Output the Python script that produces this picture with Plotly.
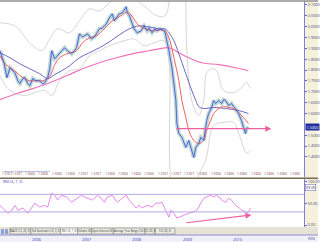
import plotly.graph_objects as go

# ---------------- data (decimal years, prices) ----------------
close_t = [2005.30,2005.38,2005.44,2005.50,2005.56,2005.60,2005.66,2005.70,2005.76,2005.80,2005.86,2005.90,2005.96,
           2006.02,2006.10,2006.16,2006.20,2006.26,2006.30,2006.34,2006.40,2006.46,2006.54,2006.60,2006.66,2006.74,2006.80,2006.84,2006.90,2006.96,
           2007.00,2007.06,2007.14,2007.20,2007.24,2007.30,2007.36,2007.44,2007.50,2007.56,2007.60,2007.64,2007.70,2007.76,2007.80,2007.84,2007.86,2007.90,2007.94,
           2008.00,2008.06,2008.14,2008.20,2008.26,2008.30,2008.36,2008.42,2008.46,2008.52,2008.58,2008.62,2008.66,2008.70,2008.76,2008.80,2008.84,2008.86,2008.90,2008.96,
           2009.00,2009.04,2009.10,2009.16,2009.20,2009.24,2009.30,2009.34,2009.40,2009.44,2009.46,2009.50,2009.56,2009.60,2009.64,2009.70,2009.76,2009.80,2009.84,2009.90,2009.96,
           2010.00,2010.04,2010.10,2010.16,2010.20,2010.24,2010.26,2010.30]
close_v = [1.889,1.834,1.765,1.811,1.797,1.788,1.751,1.738,1.761,1.765,1.738,1.728,1.761,
           1.751,1.751,1.738,1.742,1.765,1.806,1.889,1.852,1.866,1.889,1.903,1.889,1.875,1.889,1.903,1.967,1.953,
           1.958,1.967,1.944,1.953,1.967,1.990,1.994,2.013,2.040,2.059,2.027,2.040,2.059,2.063,2.077,2.091,2.063,2.054,2.027,
           1.990,1.972,1.981,2.004,1.981,1.994,1.972,1.990,1.981,1.990,1.985,1.976,1.935,1.889,1.811,1.728,1.660,1.554,1.508,1.490,
           1.467,1.444,1.476,1.430,1.398,1.444,1.462,1.490,1.476,1.536,1.568,1.600,1.628,1.660,1.646,1.660,1.646,1.664,1.660,1.637,1.646,
           1.632,1.623,1.600,1.568,1.536,1.508,1.531,1.536]

ma_red_t = [2005.30,2005.40,2005.54,2005.64,2005.76,2005.90,2006.04,2006.16,2006.30,2006.40,2006.50,2006.64,2006.84,2006.96,
            2007.10,2007.24,2007.36,2007.46,2007.56,2007.66,2007.76,2007.86,2007.94,2008.02,2008.10,2008.24,2008.36,2008.50,2008.62,
            2008.70,2008.80,2008.90,2008.96,2009.04,2009.10,2009.16,2009.24,2009.30,2009.40,2009.46,2009.54,2009.60,2009.70,2009.80,
            2009.90,2010.00,2010.10,2010.20,2010.30]
ma_red_v = [1.866,1.829,1.806,1.788,1.765,1.751,1.751,1.751,1.770,1.825,1.857,1.875,1.889,1.926,
            1.949,1.958,1.981,2.004,2.027,2.040,2.054,2.068,2.054,2.027,2.004,1.990,1.981,1.985,1.981,
            1.949,1.857,1.751,1.660,1.582,1.522,1.490,1.467,1.462,1.476,1.522,1.568,1.600,1.623,1.632,
            1.628,1.623,1.605,1.582,1.554]

ma_purple_t = [2005.30,2005.50,2005.70,2005.90,2006.10,2006.26,2006.40,2006.54,2006.70,2006.90,2007.10,2007.30,2007.50,
               2007.70,2007.90,2008.10,2008.30,2008.50,2008.62,2008.70,2008.80,2008.90,2009.04,2009.16,2009.24,2009.30,
               2009.40,2009.60,2009.84,2010.10,2010.30]
ma_purple_v = [1.880,1.857,1.829,1.806,1.783,1.761,1.779,1.797,1.820,1.857,1.880,1.903,1.930,
               1.962,1.990,2.004,1.999,1.990,1.990,1.972,1.935,1.875,1.783,1.706,1.660,1.632,
               1.623,1.628,1.623,1.614,1.600]

ma_pink_t = [2005.30,2005.64,2005.96,2006.30,2006.64,2006.96,2007.30,2007.64,2007.96,2008.30,2008.50,2008.70,2008.90,
             2009.10,2009.36,2009.70,2010.04,2010.30]
ma_pink_v = [1.664,1.692,1.715,1.742,1.774,1.806,1.834,1.857,1.875,1.889,1.898,1.903,1.880,
             1.857,1.834,1.825,1.811,1.797]

band_up_t = [2005.30,2005.60,2005.90,2006.14,2006.30,2006.46,2006.70,2006.90,2007.10,2007.30,2007.50,2007.70,2007.94,
             2008.20,2008.46,2008.62,2008.74,2008.90,2009.02,2009.06,2009.16,2009.30,2009.40,2009.46,2009.56,2009.66,
             2009.80,2010.00,2010.14,2010.26,2010.34]
band_up_v = [2.017,2.004,1.926,1.889,1.944,1.990,1.972,2.027,2.082,2.072,2.109,2.132,2.141,
             2.095,2.050,2.050,2.164,2.302,2.164,1.889,1.660,1.591,1.660,1.788,1.806,1.797,
             1.706,1.696,1.715,1.742,1.715]
band_lo_t = [2005.30,2005.50,2005.80,2006.00,2006.20,2006.34,2006.50,2006.70,2006.90,2007.10,2007.30,2007.50,2007.80,
             2008.00,2008.20,2008.40,2008.60,2008.70,2008.80,2009.10,2009.30,2009.44,2009.60,2009.80,2010.00,2010.12,
             2010.26,2010.34]
band_lo_v = [1.774,1.706,1.683,1.696,1.706,1.683,1.751,1.797,1.806,1.866,1.889,1.912,1.935,
             1.944,1.912,1.926,1.935,1.843,1.201,1.109,1.316,1.384,1.545,1.559,1.559,1.499,
             1.417,1.430]

support_level = 1.530
support_t = [2008.82, 2010.76]

rsi_t = [2005.30,2005.36,2005.46,2005.54,2005.60,2005.66,2005.76,2005.86,2005.94,2006.00,2006.10,2006.20,2006.26,2006.34,
         2006.40,2006.46,2006.54,2006.64,2006.74,2006.84,2006.94,2007.00,2007.06,2007.16,2007.26,2007.34,2007.40,2007.46,
         2007.56,2007.66,2007.76,2007.84,2007.90,2007.96,2008.04,2008.10,2008.16,2008.26,2008.36,2008.44,2008.50,2008.56,
         2008.64,2008.70,2008.74,2008.80,2008.86,2008.90,2009.00,2009.10,2009.20,2009.26,2009.34,2009.40,2009.46,2009.54,
         2009.60,2009.66,2009.74,2009.76,2009.84,2009.90,2009.96,2010.04,2010.10,2010.16,2010.24,2010.26,2010.30,2010.34]
rsi_v = [45,39,27,34,45,34,39,27,39,50,41,45,41,73,
         68,57,68,64,52,61,68,64,61,57,68,61,52,64,
         68,52,61,68,57,50,39,45,39,45,41,50,50,52,
         30,18,34,27,16,18,23,27,30,34,50,61,64,68,
         64,68,61,57,52,61,57,45,41,34,30,27,30,39]
rsi_levels = [70, 30]
rsi_div_t = [2009.02, 2010.36]
rsi_div_v = [5, 23]

price_ticks = [2.10,2.05,2.00,1.95,1.90,1.85,1.80,1.75,1.70,1.65,1.60,1.50,1.45,1.40]
rsi_ticks = [100, 50, 0]
years = ["2006", "2007", "2008", "2009", "2010"]
year_pos = [2006.05, 2007.05, 2008.05, 2009.08, 2010.08]
xlabels = ["1.5767","1.5767","1.5666","1.5366","1.5566","1.5366","1.5767","1.5767","1.5366","1.5566","1.5366","1.5566",
           "1.5767","1.5767","1.5767","1.5366","1.5566","1.5366","1.5366","1.5366","1.5366","1.5366","1.5366"]
tabs = ["MACD (12, 26, 9)", "Full Stochastic (14, 3, 3)", "RSI (14, 7, 3)", "Volume (0)", "Open Interest (0)",
        "Average True Range (14)", "CCI (20, 0)", "CCI (20, 0)"]

# ---------------- figure ----------------
W, H = 320, 242
XR = [2005.30, 2011.42]
main_dom = [1 - 177 / H, 1]
rsi_dom = [15 / H, 63 / H]
xd = [0, 306 / W]

fig = go.Figure()
# price bars approximated as a broad light band
fig.add_trace(go.Scatter(x=close_t, y=close_v, mode="lines", line=dict(color="rgba(168,200,190,0.7)", width=4),
                         xaxis="x", yaxis="y", hoverinfo="skip"))
fig.add_trace(go.Scatter(x=band_up_t, y=band_up_v, mode="lines", line=dict(color="#cccccc", width=0.8, shape="spline"),
                         xaxis="x", yaxis="y"))
fig.add_trace(go.Scatter(x=band_lo_t, y=band_lo_v, mode="lines", line=dict(color="#cccccc", width=0.8, shape="spline"),
                         xaxis="x", yaxis="y"))
fig.add_trace(go.Scatter(x=ma_pink_t, y=ma_pink_v, mode="lines", line=dict(color="#f070b8", width=1.2, shape="spline"),
                         xaxis="x", yaxis="y"))
fig.add_trace(go.Scatter(x=ma_purple_t, y=ma_purple_v, mode="lines", line=dict(color="#6a6ac0", width=1, shape="spline"),
                         xaxis="x", yaxis="y"))
fig.add_trace(go.Scatter(x=ma_red_t, y=ma_red_v, mode="lines", line=dict(color="#f06060", width=1, shape="spline"),
                         xaxis="x", yaxis="y"))
fig.add_trace(go.Scatter(x=close_t, y=close_v, mode="lines", line=dict(color="#3a58e8", width=0.9),
                         xaxis="x", yaxis="y"))

# RSI
fig.add_trace(go.Scatter(x=rsi_t, y=rsi_v, mode="lines", line=dict(color="#e888f0", width=1), xaxis="x2", yaxis="y2"))

shapes = []
# right axis strip
shapes.append(dict(type="rect", xref="paper", yref="paper", x0=xd[1], x1=1, y0=0.03, y1=1,
                   fillcolor="#f5f1dc", line=dict(width=0), layer="below"))
for lv in rsi_levels:
    shapes.append(dict(type="line", xref="x2", yref="y2", x0=XR[0], x1=XR[1], y0=lv, y1=lv,
                       line=dict(color="#b4a8e0", width=1)))
# separator between panels
shapes.append(dict(type="line", xref="paper", yref="paper", x0=0, x1=1, y0=1 - 178 / H, y1=1 - 178 / H,
                   line=dict(color="#7a6a50", width=1.5)))
# top border
shapes.append(dict(type="line", xref="paper", yref="paper", x0=0, x1=1, y0=1, y1=1, line=dict(color="#909090", width=1.5)))
# tabs row
shapes.append(dict(type="rect", xref="paper", yref="paper", x0=0, x1=1, y0=0, y1=1 - 227 / H,
                   fillcolor="#e6e3d6", line=dict(width=0), layer="below"))
shapes.append(dict(type="rect", xref="paper", yref="paper", x0=0, x1=1, y0=0, y1=1 - 235 / H,
                   fillcolor="#f0f0f8", line=dict(width=0), layer="below"))
shapes.append(dict(type="line", xref="paper", yref="paper", x0=0, x1=1, y0=1 - 235 / H, y1=1 - 235 / H,
                   line=dict(color="#9090d0", width=1)))
tab_x = [10, 31, 61, 78, 92, 114, 146, 156, 176]
for i in range(len(tab_x) - 1):
    shapes.append(dict(type="rect", xref="paper", yref="paper", x0=tab_x[i] / W, x1=tab_x[i + 1] / W,
                       y0=1 - 234 / H, y1=1 - 228 / H,
                       fillcolor="#ffffff" if i == 2 else "#ecebe4", line=dict(color="#808080", width=0.6)))
shapes.append(dict(type="rect", xref="paper", yref="paper", x0=1 / W, x1=4 / W, y0=1 - 234 / H, y1=1 - 229 / H,
                   fillcolor="#8aa0e0", line=dict(width=0)))
shapes.append(dict(type="rect", xref="paper", yref="paper", x0=5 / W, x1=8 / W, y0=1 - 234 / H, y1=1 - 229 / H,
                   fillcolor="#8aa0e0", line=dict(width=0)))

ann = []
# arrows
ann.append(dict(xref="x", yref="y", axref="x", ayref="y", x=support_t[1], y=support_level,
                ax=support_t[0], ay=support_level, text="", showarrow=True, arrowhead=2, arrowsize=1,
                arrowwidth=1.2, arrowcolor="#f060a0"))
ann.append(dict(xref="x2", yref="y2", axref="x2", ayref="y2", x=rsi_div_t[1], y=rsi_div_v[1],
                ax=rsi_div_t[0], ay=rsi_div_v[0], text="", showarrow=True, arrowhead=2, arrowsize=1,
                arrowwidth=1.2, arrowcolor="#f060a0"))
for i, t in enumerate(tabs):
    ann.append(dict(xref="paper", yref="paper", x=(tab_x[i] + tab_x[i + 1]) / 2 / W, y=1 - 231 / H, text=t,
                    showarrow=False, font=dict(size=2.6, color="#303030"), xanchor="center", yanchor="middle"))
for yp, yt in zip(year_pos, years):
    ann.append(dict(xref="x", yref="paper", x=yp, y=1 - 239 / H, text=yt, showarrow=False,
                    font=dict(size=4, color="#3040c0"), xanchor="center", yanchor="middle"))
for i, t in enumerate(xlabels):
    if i == 0:
        ann.append(dict(xref="paper", yref="paper", x=0, y=1 - 174 / H, text=t, showarrow=False,
                        font=dict(size=3.2, color="#804040"), xanchor="left", yanchor="middle"))
    else:
        ann.append(dict(xref="paper", yref="paper", x=(3.5 + 13.35 * i) / W, y=1 - 174 / H, text=t, showarrow=False,
                        font=dict(size=3.2, color="#804040"), xanchor="center", yanchor="middle"))
ann.append(dict(xref="paper", yref="paper", x=1 / W, y=1 - 170.5 / H, text="Copyright © 2009 eSignal/Interactive Data",
                showarrow=False, font=dict(size=2.4, color="#3040c0"), xanchor="left", yanchor="middle"))
ann.append(dict(xref="paper", yref="paper", x=1 / W, y=1 - 181.5 / H, text="RSI(14, 7, 3)",
                showarrow=False, font=dict(size=3.6, color="#3040c0"), xanchor="left", yanchor="middle"))
# current value boxes
ann.append(dict(xref="paper", yref="y", x=307 / W, y=close_v[-1], text=f"{close_v[-1]:.4f}", showarrow=False,
                font=dict(size=3.8, color="#ffffff"), bgcolor="#2030a0", xanchor="left", yanchor="middle", borderpad=0.5))
ann.append(dict(xref="paper", yref="paper", x=307 / W, y=1 - 187 / H, text=f"{rsi_v[-1]:.2f}", showarrow=False,
                font=dict(size=3.8, color="#303060"), bgcolor="#ffffff", bordercolor="#6060a0", borderwidth=0.5,
                xanchor="left", yanchor="middle", borderpad=0.3))
ann.append(dict(xref="paper", yref="paper", x=313 / W, y=1 - 238.5 / H, text="FDO", showarrow=False,
                font=dict(size=3.5, color="#303060"), xanchor="center", yanchor="middle"))

fig.update_layout(
    width=W, height=H, autosize=False, margin=dict(l=0, r=0, t=0, b=0),
    paper_bgcolor="#ffffff", plot_bgcolor="#ffffff", showlegend=False,
    shapes=shapes, annotations=ann,
    xaxis=dict(domain=xd, range=XR, showticklabels=False, showgrid=False, zeroline=False, anchor="y"),
    yaxis=dict(domain=main_dom, range=[1.3064, 2.1183], side="right", anchor="x",
               tickvals=price_ticks, ticktext=[f"{v:.4f}" for v in price_ticks],
               tickfont=dict(size=3.8, color="#404070"), ticks="outside", ticklen=2, tickcolor="#6060c0",
               showgrid=False, zeroline=False, showline=True, linecolor="#8080e0", linewidth=1),
    xaxis2=dict(domain=xd, range=XR, showticklabels=False, showgrid=False, zeroline=False, anchor="y2"),
    yaxis2=dict(domain=rsi_dom, range=[-4.5, 104.5], side="right", anchor="x2",
                tickvals=rsi_ticks, ticktext=[f"{v:.2f}" for v in rsi_ticks],
                tickfont=dict(size=3.8, color="#404070"), ticks="outside", ticklen=2, tickcolor="#6060c0",
                showgrid=False, zeroline=False, showline=True, linecolor="#8080e0", linewidth=1),
)
fig.write_html("out.html")
